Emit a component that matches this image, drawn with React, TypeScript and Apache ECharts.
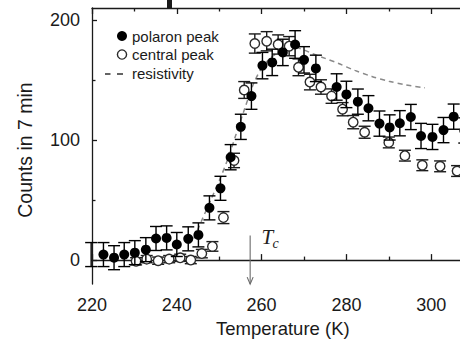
import React, { useEffect, useRef } from 'react';
import * as echarts from 'echarts';

// ---- data ----
const polaronT = [219.8, 222.7, 225.2, 227.6, 230.1, 232.7, 235.1, 237.6, 240.0, 242.7, 245.1, 247.7, 250.3, 252.7, 255.1, 257.6, 260.2, 262.5, 265.0, 267.9, 270.0, 272.8, 277.7, 280.0, 282.7, 285.2, 287.8, 290.2, 292.6, 295.2, 297.6, 300.3, 302.9, 305.3, 307.8];
const polaronCounts = [4.6, 4.6, 2, 4.6, 6.2, 8.7, 18, 18.5, 13, 17.7, 21, 43.5, 59.8, 85.7, 111, 136.6, 162, 164.7, 173, 179.6, 166.8, 159.7, 144.2, 138, 132, 126.5, 113.7, 110.5, 114, 119.2, 103.4, 102.6, 108.3, 119.5, 108];
const polaronErr = [10, 10, 10, 10, 10, 10, 10, 10, 10, 10, 10, 10, 10, 10.5, 10.5, 11, 11, 11, 11, 11.5, 11, 11, 11, 11, 10.5, 10.5, 10.5, 10.5, 10.5, 10.5, 10.5, 10.5, 10.5, 10.5, 10.5];

const centralT = [230.4, 232.9, 235.6, 238.2, 240.8, 243.3, 245.9, 248.4, 251.0, 253.5, 255.9, 258.4, 261.2, 263.9, 266.5, 268.7, 271.4, 274.0, 276.5, 279.1, 281.6, 284.3, 290.0, 293.8, 297.9, 302.1, 306.1];
const centralCounts = [-1, 0.8, -0.5, 0.8, 1.9, 0, 5.4, 11.4, 35.4, 83, 141.7, 180.4, 182.3, 179.6, 178.2, 160.6, 148.3, 144.2, 136.6, 125.7, 114.9, 106.5, 98, 87, 79, 78.1, 74.2];
const centralErr = [3, 3, 3, 3, 3, 3, 3.5, 4, 5, 6, 7, 8, 8, 8, 8, 7, 6.5, 6, 6, 5.5, 5.5, 5, 4.5, 4.5, 4.5, 4.5, 4.5];

const resistT = [244, 246, 248, 250, 252, 254, 256, 258, 260, 262, 264, 266, 268, 270, 272, 275, 278, 282, 286, 290, 294, 298.5];
const resistScaled = [18, 34, 50, 66, 84, 105, 126, 146, 160, 168, 173, 176, 177, 175, 172, 168, 164, 158, 153, 149, 146, 143.5];

const xTicks = [220, 240, 260, 280, 300];
const xMinorTicks = [230, 250, 270, 290];
const yTicks = [0, 100, 200];
const yMinorTicks = [50, 150];

const tcTemp = 257.3;
const tcArrowTop = 20.4;
const tcArrowBottom = -20;

const FONT = '"Liberation Sans", Arial, Helvetica, sans-serif';
const AX = '#1a1a1a';

function errorBars(color: string, hw: number) {
  return (params: any, api: any) => {
    const x = api.value(0);
    const y = api.value(1);
    const e = api.value(2);
    const top = api.coord([x, y + e]);
    const bot = api.coord([x, y - e]);
    const st = { stroke: color, lineWidth: 1.4 };
    return {
      type: 'group',
      children: [
        { type: 'line', shape: { x1: top[0], y1: top[1], x2: bot[0], y2: bot[1] }, style: st },
        { type: 'line', shape: { x1: top[0] - hw, y1: top[1], x2: top[0] + hw, y2: top[1] }, style: st },
        { type: 'line', shape: { x1: bot[0] - hw, y1: bot[1], x2: bot[0] + hw, y2: bot[1] }, style: st },
      ],
    };
  };
}

export default function App() {
  const ref = useRef<HTMLDivElement>(null);
  useEffect(() => {
    document.body.style.margin = '0';
    document.body.style.overflow = 'hidden';
    document.documentElement.style.overflow = 'hidden';
    const chart = echarts.init(ref.current!, null, { renderer: 'svg' });

    const polaron = polaronT.map((t, i) => [t, polaronCounts[i]]);
    const polaronE = polaronT.map((t, i) => [t, polaronCounts[i], polaronErr[i]]);
    const central = centralT.map((t, i) => [t, centralCounts[i]]);
    const centralE = centralT.map((t, i) => [t, centralCounts[i], centralErr[i]]);
    const resist = resistT.map((t, i) => [t, resistScaled[i]]);

    const lineStyle = { color: AX, width: 1.3 };
    const tickStyle = { color: AX, width: 1.3 };
    const labelStyle = { color: AX, fontSize: 18, fontFamily: FONT };

    const baseX = { type: 'value', min: 220, max: 310, gridIndex: 0, splitLine: { show: false } };
    const baseY = { type: 'value', min: -20, max: 210, gridIndex: 0, splitLine: { show: false } };

    chart.setOption({
      animation: false,
      backgroundColor: '#fff',
      grid: { left: 92, right: 26.4, top: 8, bottom: 53.5, containLabel: false },
      xAxis: [
        {
          ...baseX, position: 'bottom',
          axisLine: { show: true, lineStyle },
          axisTick: { show: true, inside: true, length: 6, customValues: xTicks, lineStyle: tickStyle },
          axisLabel: { show: true, customValues: xTicks, margin: 12, ...labelStyle },
          name: 'Temperature (K)', nameLocation: 'middle', nameGap: 33,
          nameTextStyle: { color: AX, fontSize: 18.5, fontFamily: FONT },
        },
        {
          ...baseX, position: 'bottom',
          axisLine: { show: false },
          axisTick: { show: true, inside: true, length: 3.5, customValues: xMinorTicks, lineStyle: tickStyle },
          axisLabel: { show: false },
        },
        {
          ...baseX, position: 'top',
          axisLine: { show: true, lineStyle },
          axisTick: { show: true, inside: true, length: 6, customValues: xTicks, lineStyle: tickStyle },
          axisLabel: { show: false },
        },
        {
          ...baseX, position: 'top',
          axisLine: { show: false },
          axisTick: { show: true, inside: true, length: 3.5, customValues: xMinorTicks, lineStyle: tickStyle },
          axisLabel: { show: false },
        },
      ],
      yAxis: [
        {
          ...baseY, position: 'left',
          axisLine: { show: true, lineStyle },
          axisTick: { show: true, inside: true, length: 5, customValues: yTicks, lineStyle: tickStyle },
          axisLabel: { show: true, customValues: yTicks, margin: 12, align: 'right', ...labelStyle },
          name: 'Counts in 7 min', nameLocation: 'middle', nameGap: 57,
          nameTextStyle: { color: AX, fontSize: 19.5, fontFamily: FONT, padding: [0, 8, 0, 0] },
        },
        {
          ...baseY, position: 'left',
          axisLine: { show: false },
          axisTick: { show: true, inside: true, length: 3.5, customValues: yMinorTicks, lineStyle: tickStyle },
          axisLabel: { show: false },
        },
      ],
      series: [
        {
          name: 'resistivity', type: 'line', xAxisIndex: 0, yAxisIndex: 0, data: resist,
          smooth: 0.3, showSymbol: false, z: 1,
          lineStyle: { color: '#8a8a8a', width: 1.5, type: [5, 4] },
        },
        {
          type: 'custom', xAxisIndex: 0, yAxisIndex: 0, data: centralE, z: 2,
          renderItem: errorBars('#1a1a1a', 6),
        },
        {
          name: 'central peak', type: 'scatter', xAxisIndex: 0, yAxisIndex: 0, data: central, z: 3,
          symbol: 'circle', symbolSize: 9.5,
          itemStyle: { color: '#ffffff', borderColor: '#2a2a2a', borderWidth: 1.4, opacity: 1 },
        },
        {
          type: 'custom', xAxisIndex: 0, yAxisIndex: 0, data: polaronE, z: 4,
          renderItem: errorBars('#000000', 6),
        },
        {
          name: 'polaron peak', type: 'scatter', xAxisIndex: 0, yAxisIndex: 0, data: polaron, z: 5,
          symbol: 'circle', symbolSize: 10,
          itemStyle: { color: '#000000', opacity: 1 },
        },
        {
          type: 'custom', xAxisIndex: 0, yAxisIndex: 0, z: 6,
          data: [[tcTemp, tcArrowTop, tcArrowBottom]],
          renderItem: (params: any, api: any) => {
            const t = api.value(0);
            const a = api.coord([t, api.value(1)]);
            const b = api.coord([t, api.value(2)]);
            const st = { stroke: '#6a6a6a', lineWidth: 1.1, fill: 'none' };
            return {
              type: 'group',
              children: [
                { type: 'line', shape: { x1: a[0], y1: a[1], x2: b[0], y2: b[1] }, style: st },
                { type: 'polyline', shape: { points: [[b[0] - 3, b[1] - 7], [b[0], b[1]], [b[0] + 3, b[1] - 7]] }, style: st },
              ],
            };
          },
        },
      ],
      graphic: [
        { type: 'rect', shape: { x: 167, y: 0, width: 5, height: 8 }, style: { fill: '#1a1a1a' } },
        { type: 'circle', shape: { cx: 122, cy: 36, r: 5 }, style: { fill: '#000' } },
        { type: 'text', style: { text: 'polaron peak', x: 132, y: 36, verticalAlign: 'middle', font: `15px ${FONT}`, fill: AX } },
        { type: 'circle', shape: { cx: 122, cy: 54.5, r: 4.6 }, style: { fill: '#fff', stroke: '#2a2a2a', lineWidth: 1.4 } },
        { type: 'text', style: { text: 'central peak', x: 132, y: 54.5, verticalAlign: 'middle', font: `15px ${FONT}`, fill: AX } },
        { type: 'line', shape: { x1: 105, y1: 74, x2: 110.5, y2: 74 }, style: { stroke: '#222', lineWidth: 1.4 } },
        { type: 'line', shape: { x1: 117, y1: 74, x2: 123, y2: 74 }, style: { stroke: '#222', lineWidth: 1.4 } },
        { type: 'text', style: { text: 'resistivity', x: 132, y: 73, verticalAlign: 'middle', font: `15px ${FONT}`, fill: AX } },
        { type: 'text', style: { text: 'T', x: 261.5, y: 237, verticalAlign: 'middle', font: `italic 21px "Liberation Serif", "Times New Roman", serif`, fill: '#222' } },
        { type: 'text', style: { text: 'c', x: 272.5, y: 243, verticalAlign: 'middle', font: `italic 14px "Liberation Serif", "Times New Roman", serif`, fill: '#222' } },
      ],
    });
    return () => chart.dispose();
  }, []);
  return <div ref={ref} style={{ position: 'absolute', left: 0, top: 0, width: 500, height: 343 }} />;
}
